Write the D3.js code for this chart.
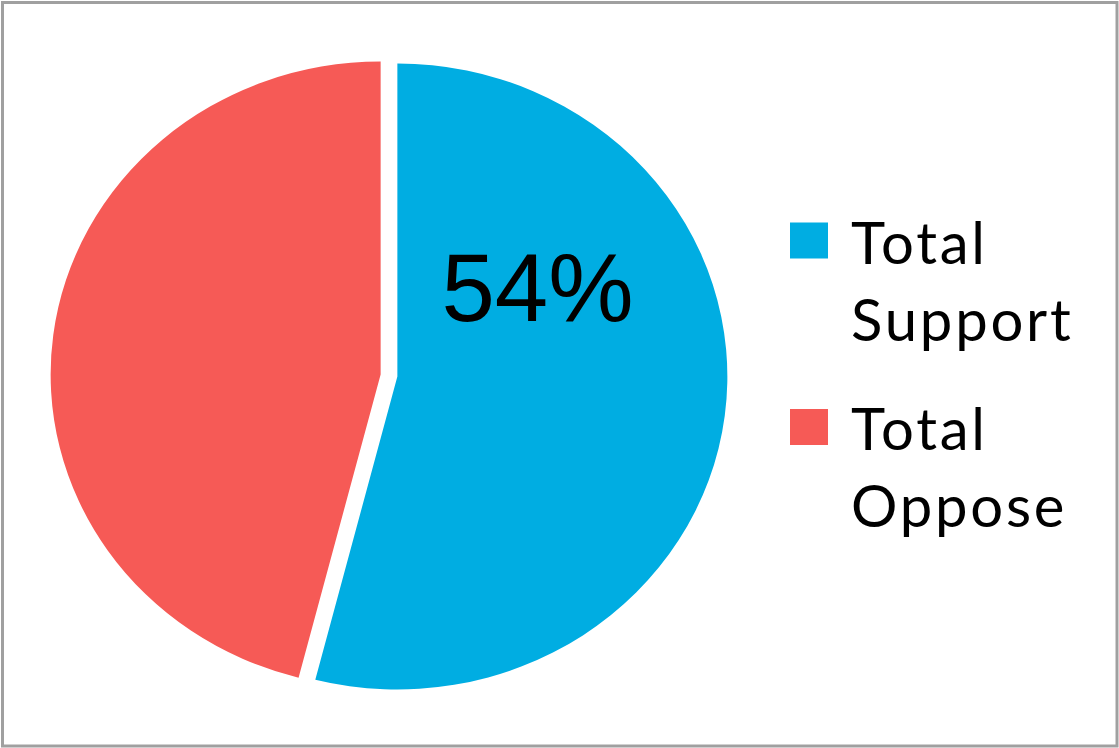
<!DOCTYPE html>
<html>
<head>
<meta charset="utf-8">
<script src="https://cdn.jsdelivr.net/npm/d3@7/dist/d3.min.js"></script>
<style>
  html, body { margin: 0; padding: 0; background: #fff; }
  svg { display: block; }
</style>
</head>
<body>
<svg id="chart" width="1119" height="748"></svg>
<script>
const categories = ["Total Support", "Total Oppose"];
const legendLines = [["Total", "Support"], ["Total", "Oppose"]];
const values = [54, 46];
const colors = ["#00ADE2", "#F65A56"];
const labelText = ["54%", ""];

const svg = d3.select("#chart");
const W = 1119, H = 748;

svg.append("rect")
  .attr("x", 2.5).attr("y", 2.5)
  .attr("width", W - 4.5).attr("height", H - 4.5)
  .attr("fill", "#fff")
  .attr("stroke", "#a0a0a0")
  .attr("stroke-width", 3);

const R = 313;
const sx = 330 / 313;
const cx = 389, cy = 375.5;
const explode = 8;

const pie = d3.pie().sort(null).value(d => d)(values);
const arc = d3.arc().innerRadius(0).outerRadius(R);

const g = svg.append("g")
  .attr("transform", `translate(${cx},${cy}) scale(${sx},1)`);

g.selectAll("path")
  .data(pie)
  .join("path")
  .attr("d", arc)
  .attr("fill", (d, i) => colors[i])
  .attr("transform", d => {
    const a = (d.startAngle + d.endAngle) / 2;
    return `translate(${Math.sin(a) * explode},${-Math.cos(a) * explode})`;
  });

// data label
svg.append("text")
  .attr("x", 537.5)
  .attr("y", 320.5)
  .attr("text-anchor", "middle")
  .attr("font-family", "'Liberation Sans', Arial, sans-serif")
  .attr("font-size", 96)
  .attr("fill", "#000")
  .text(labelText[0]);

// legend
const legend = svg.append("g");
const legendY = [222.5, 409];
categories.forEach((c, i) => {
  const lg = legend.append("g");
  lg.append("rect")
    .attr("x", 790).attr("y", legendY[i])
    .attr("width", 38).attr("height", 36)
    .attr("fill", colors[i]);
  const t = lg.append("text")
    .attr("font-family", "Lato, 'Open Sans', sans-serif")
    .attr("font-size", 58)
    .attr("letter-spacing", 2.8)
    .attr("fill", "#000");
  legendLines[i].forEach((ln, j) => {
    t.append("tspan")
      .attr("x", 851)
      .attr("y", legendY[i] + 41 + j * 77)
      .text(ln);
  });
});
</script>
</body>
</html>
